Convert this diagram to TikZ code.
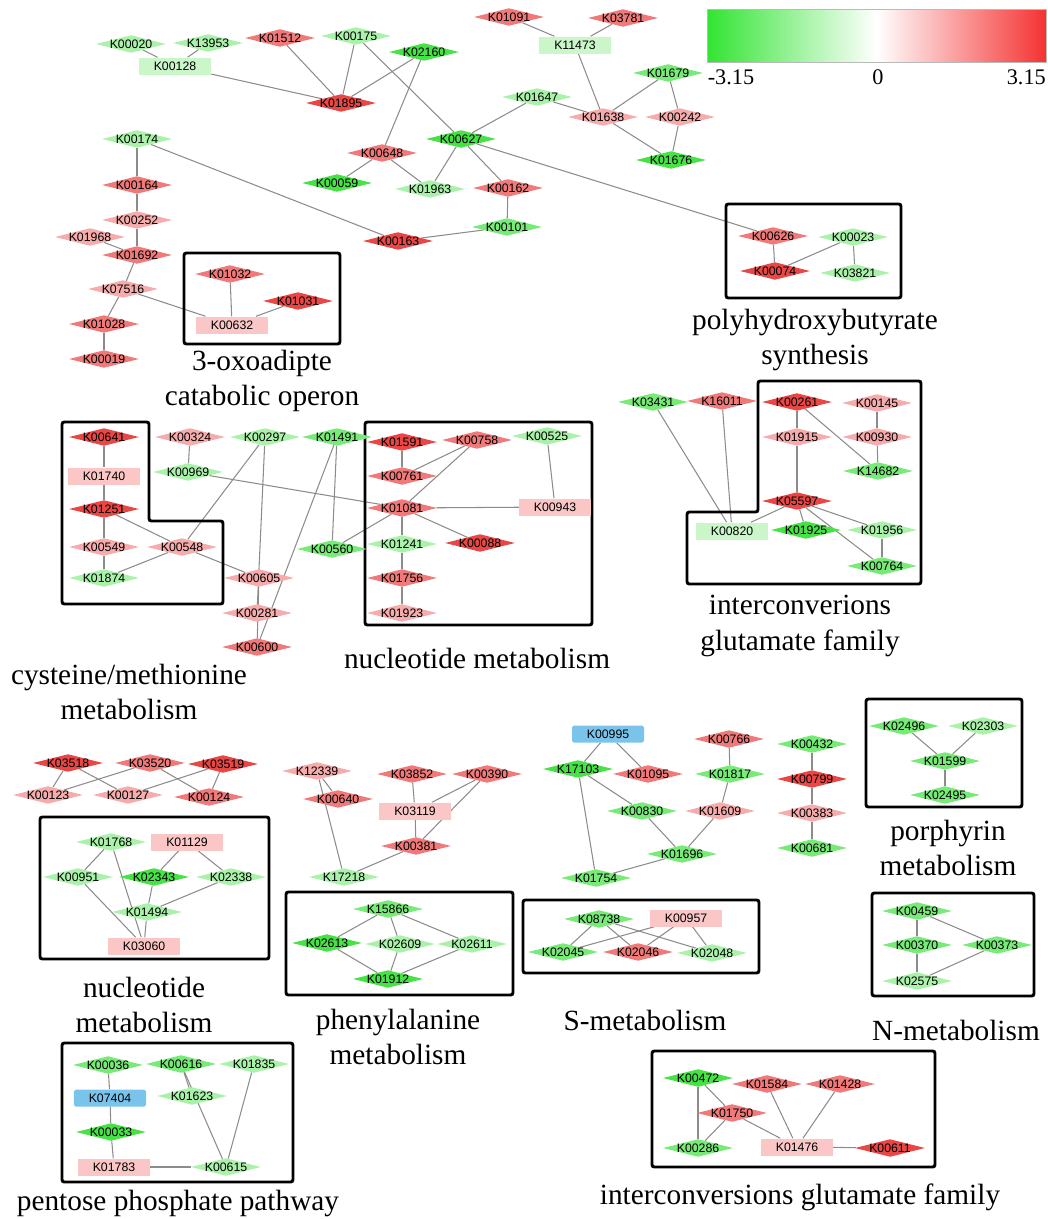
\documentclass[tikz,border=0pt]{standalone}
\usepackage{fontspec}
\setmainfont{Liberation Serif}
\newfontfamily\kosans{Liberation Sans}
\usepackage{tikz}
\usetikzlibrary{shapes.geometric,backgrounds}

\definecolor{redA}{RGB}{233,70,70}
\definecolor{redB}{RGB}{240,122,122}
\definecolor{redC}{RGB}{246,172,172}
\definecolor{redD}{RGB}{250,198,198}
\definecolor{grnA}{RGB}{70,226,70}
\definecolor{grnB}{RGB}{120,234,120}
\definecolor{grnC}{RGB}{170,242,170}
\definecolor{grnD}{RGB}{202,246,202}
\definecolor{bluA}{RGB}{122,196,236}
\definecolor{linkgray}{RGB}{140,140,140}
\definecolor{scalegrn}{RGB}{50,228,50}
\definecolor{scalered}{RGB}{245,50,50}

\newcommand{\kofont}{\kosans\fontsize{10.5}{12}\selectfont}
\newcommand{\capfont}{\fontsize{25}{30.5}\selectfont}

\tikzset{
	kd/.style={diamond, inner sep=0pt, minimum width=2.1cm, minimum height=0.53cm, fill=#1},
	kr/.style={rectangle, inner sep=0pt, minimum width=2.16cm, minimum height=0.51cm, fill=#1, font=\kofont},
	every label/.style={font=\kofont, inner sep=0pt},
	link/.style={draw=linkgray, line width=0.9pt},
	group/.style={draw=black, line width=2.5pt, rounded corners=2pt},
	caption/.style={font=\capfont, align=center, inner sep=0pt},
}

\begin{document}
\begin{tikzpicture}[x=0.03cm, y=-0.03cm]
	\useasboundingbox (0,0) rectangle (1048,1219);

	% Colour scale:
	\shade[left color=scalegrn, right color=scalered, middle color=white] (707,9) rectangle (1046,62);
	\draw[linkgray!60, line width=0.4pt] (707,9) rectangle (1046,62);
	\node[font=\fontsize{19}{22}\selectfont, inner sep=0pt] (minval) at (731,77) {-3.15};
	\node[font=\fontsize{19}{22}\selectfont, inner sep=0pt] (zeroval) at (878,77) {0};
	\node[font=\fontsize{19}{22}\selectfont, inner sep=0pt, anchor=east] (maxval) at (1046,77) {3.15};

	% Module boxes:
	\draw[group] (184,253) rectangle (340,344);
	\draw[group] (726,204) rectangle (901,298);
	\draw[group] (62,422) -- (149,422) -- (149,521) -- (223,521) -- (223,604) -- (62,604) -- cycle;
	\draw[group] (365,422) rectangle (592,625);
	\draw[group] (758,381) -- (921,381) -- (921,584) -- (687,584) -- (687,512) -- (758,512) -- cycle;
	\draw[group] (40,817) rectangle (269,959);
	\draw[group] (286,892) rectangle (513,995);
	\draw[group] (523,900) rectangle (759,973);
	\draw[group] (866,699) rectangle (1022,807);
	\draw[group] (872,893) rectangle (1034,996);
	\draw[group] (62,1043) rectangle (293,1182);
	\draw[group] (652,1051) rectangle (935,1167);

	% Module names:
	\node[caption] (capoxo) at (262,381) {3-oxoadipte\\catabolic operon};
	\node[caption] (capphb) at (815,340) {polyhydroxybutyrate\\synthesis};
	\node[caption] (capcys) at (129,692) {cysteine/methionine\\metabolism};
	\node[caption] (capnuca) at (477,658) {nucleotide metabolism};
	\node[caption] (capglua) at (800,626) {interconverions\\glutamate family};
	\node[caption] (capnucb) at (144,1005) {nucleotide\\metabolism};
	\node[caption] (capphe) at (398,1037) {phenylalanine\\metabolism};
	\node[caption] (capsul) at (645,1020) {S-metabolism};
	\node[caption] (cappor) at (948,848) {porphyrin\\metabolism};
	\node[caption] (capnit) at (956,1030) {N-metabolism};
	\node[caption] (cappen) at (178,1203) {pentose phosphate pathway};
	\node[caption] (capglub) at (800,1197) {interconversions glutamate family};

	% Nodes, top part:
	\node[kd=grnC, label=center:K00020] (k00020) at (131,44) {};
	\node[kd=grnC, label=center:K13953] (k13953) at (208,43) {};
	\node[kr=grnD] (k00128) at (175,66) {K00128};
	\node[kd=redB, label=center:K01512] (k01512) at (280,38) {};
	\node[kd=grnC, label=center:K00175] (k00175) at (356,36) {};
	\node[kd=grnA, label=center:K02160] (k02160) at (424,52) {};
	\node[kd=redA, label=center:K01895] (k01895) at (341,103) {};
	\node[kd=redB, label=center:K01091] (k01091) at (509,17) {};
	\node[kd=redB, label=center:K03781] (k03781) at (623,18) {};
	\node[kr=grnD] (k11473) at (575,45) {K11473};
	\node[kd=grnB, label=center:K01679] (k01679) at (668,73) {};
	\node[kd=grnC, label=center:K01647] (k01647) at (537,97) {};
	\node[kd=redC, label=center:K01638] (k01638) at (603,117) {};
	\node[kd=redC, label=center:K00242] (k00242) at (680,117) {};
	\node[kd=grnA, label=center:K01676] (k01676) at (671,160) {};
	\node[kd=grnA, label=center:K00627] (k00627) at (461,139) {};
	\node[kd=redB, label=center:K00648] (k00648) at (382,153) {};
	\node[kd=grnA, label=center:K00059] (k00059) at (337,183) {};
	\node[kd=grnC, label=center:K01963] (k01963) at (430,189) {};
	\node[kd=redB, label=center:K00162] (k00162) at (508,188) {};
	\node[kd=grnB, label=center:K00101] (k00101) at (507,227) {};
	\node[kd=redA, label=center:K00163] (k00163) at (398,241) {};
	\node[kd=grnC, label=center:K00174] (k00174) at (137,139) {};
	\node[kd=redB, label=center:K00164] (k00164) at (137,185) {};
	\node[kd=redC, label=center:K00252] (k00252) at (137,220) {};
	\node[kd=redC, label=center:K01968] (k01968) at (90,237) {};
	\node[kd=redB, label=center:K01692] (k01692) at (137,255) {};
	\node[kd=redC, label=center:K07516] (k07516) at (123,289) {};
	\node[kd=redB, label=center:K01028] (k01028) at (104,324) {};
	\node[kd=redB, label=center:K00019] (k00019) at (104,359) {};
	\node[kd=redB, label=center:K01032] (k01032) at (230,274) {};
	\node[kd=redA, label=center:K01031] (k01031) at (298,301) {};
	\node[kr=redD] (k00632) at (232,325) {K00632};
	\node[kd=redB, label=center:K00626] (k00626) at (773,236) {};
	\node[kd=grnC, label=center:K00023] (k00023) at (853,237) {};
	\node[kd=redA, label=center:K00074] (k00074) at (775,271) {};
	\node[kd=grnC, label=center:K03821] (k03821) at (855,273) {};

	% Nodes, middle part:
	\node[kd=redA, label=center:K00641] (k00641) at (104,437) {};
	\node[kr=redD] (k01740) at (104,476) {K01740};
	\node[kd=redA, label=center:K01251] (k01251) at (104,509) {};
	\node[kd=redC, label=center:K00549] (k00549) at (104,547) {};
	\node[kd=grnC, label=center:K01874] (k01874) at (104,578) {};
	\node[kd=redC, label=center:K00548] (k00548) at (182,547) {};
	\node[kd=redC, label=center:K00324] (k00324) at (190,437) {};
	\node[kd=grnC, label=center:K00969] (k00969) at (188,472) {};
	\node[kd=grnC, label=center:K00297] (k00297) at (265,437) {};
	\node[kd=grnB, label=center:K01491] (k01491) at (337,437) {};
	\node[kd=grnB, label=center:K00560] (k00560) at (332,549) {};
	\node[kd=redC, label=center:K00605] (k00605) at (259,578) {};
	\node[kd=redC, label=center:K00281] (k00281) at (257,613) {};
	\node[kd=redB, label=center:K00600] (k00600) at (257,647) {};
	\node[kd=redA, label=center:K01591] (k01591) at (402,442) {};
	\node[kd=redB, label=center:K00758] (k00758) at (477,440) {};
	\node[kd=grnC, label=center:K00525] (k00525) at (547,436) {};
	\node[kd=redB, label=center:K00761] (k00761) at (402,476) {};
	\node[kd=redB, label=center:K01081] (k01081) at (402,508) {};
	\node[kr=redD] (k00943) at (555,507) {K00943};
	\node[kd=grnC, label=center:K01241] (k01241) at (402,544) {};
	\node[kd=redA, label=center:K00088] (k00088) at (480,543) {};
	\node[kd=redB, label=center:K01756] (k01756) at (402,578) {};
	\node[kd=redC, label=center:K01923] (k01923) at (402,613) {};
	\node[kd=grnB, label=center:K03431] (k03431) at (653,402) {};
	\node[kd=redB, label=center:K16011] (k16011) at (722,401) {};
	\node[kr=grnD] (k00820) at (732,531) {K00820};
	\node[kd=redA, label=center:K00261] (k00261) at (797,402) {};
	\node[kd=redC, label=center:K00145] (k00145) at (877,403) {};
	\node[kd=redC, label=center:K01915] (k01915) at (797,437) {};
	\node[kd=redC, label=center:K00930] (k00930) at (877,437) {};
	\node[kd=grnB, label=center:K14682] (k14682) at (878,471) {};
	\node[kd=redA, label=center:K05597] (k05597) at (797,501) {};
	\node[kd=grnA, label=center:K01925] (k01925) at (806,530) {};
	\node[kd=grnC, label=center:K01956] (k01956) at (882,530) {};
	\node[kd=grnB, label=center:K00764] (k00764) at (882,566) {};

	% Nodes, lower part:
	\node[kd=redA, label=center:K03518] (k03518) at (68,763) {};
	\node[kd=redB, label=center:K03520] (k03520) at (150,763) {};
	\node[kd=redA, label=center:K03519] (k03519) at (223,764) {};
	\node[kd=redC, label=center:K00123] (k00123) at (48,795) {};
	\node[kd=redC, label=center:K00127] (k00127) at (128,795) {};
	\node[kd=redB, label=center:K00124] (k00124) at (209,797) {};
	\node[kd=grnC, label=center:K01768] (k01768) at (111,842) {};
	\node[kr=redD] (k01129) at (187,842) {K01129};
	\node[kd=grnC, label=center:K00951] (k00951) at (78,877) {};
	\node[kd=grnA, label=center:K02343] (k02343) at (154,877) {};
	\node[kd=grnC, label=center:K02338] (k02338) at (231,877) {};
	\node[kd=grnC, label=center:K01494] (k01494) at (147,912) {};
	\node[kr=redD] (k03060) at (144,946) {K03060};
	\node[kd=redC, label=center:K12339] (k12339) at (317,771) {};
	\node[kd=redB, label=center:K00640] (k00640) at (338,799) {};
	\node[kd=grnC, label=center:K17218] (k17218) at (344,877) {};
	\node[kd=redB, label=center:K03852] (k03852) at (412,774) {};
	\node[kd=redB, label=center:K00390] (k00390) at (487,774) {};
	\node[kr=redD] (k03119) at (415,811) {K03119};
	\node[kd=redB, label=center:K00381] (k00381) at (416,846) {};
	\node[kr=bluA, rounded corners=1.5pt] (k00995) at (608,734) {K00995};
	\node[kd=grnA, label=center:K17103] (k17103) at (578,769) {};
	\node[kd=redB, label=center:K01095] (k01095) at (648,774) {};
	\node[kd=grnB, label=center:K00830] (k00830) at (642,811) {};
	\node[kd=grnB, label=center:K01696] (k01696) at (682,854) {};
	\node[kd=grnB, label=center:K01754] (k01754) at (596,878) {};
	\node[kd=redB, label=center:K00766] (k00766) at (729,739) {};
	\node[kd=grnB, label=center:K01817] (k01817) at (730,774) {};
	\node[kd=redC, label=center:K01609] (k01609) at (720,811) {};
	\node[kd=grnB, label=center:K00432] (k00432) at (812,744) {};
	\node[kd=redA, label=center:K00799] (k00799) at (812,779) {};
	\node[kd=redC, label=center:K00383] (k00383) at (812,813) {};
	\node[kd=grnB, label=center:K00681] (k00681) at (812,848) {};
	\node[kd=grnB, label=center:K02496] (k02496) at (904,726) {};
	\node[kd=grnC, label=center:K02303] (k02303) at (983,726) {};
	\node[kd=grnB, label=center:K01599] (k01599) at (945,761) {};
	\node[kd=grnB, label=center:K02495] (k02495) at (945,795) {};
	\node[kd=grnB, label=center:K00459] (k00459) at (917,911) {};
	\node[kd=grnB, label=center:K00370] (k00370) at (917,945) {};
	\node[kd=grnB, label=center:K00373] (k00373) at (997,945) {};
	\node[kd=grnC, label=center:K02575] (k02575) at (917,981) {};
	\node[kd=grnB, label=center:K15866] (k15866) at (388,909) {};
	\node[kd=grnA, label=center:K02613] (k02613) at (327,943) {};
	\node[kd=grnC, label=center:K02609] (k02609) at (400,944) {};
	\node[kd=grnC, label=center:K02611] (k02611) at (472,944) {};
	\node[kd=grnA, label=center:K01912] (k01912) at (388,979) {};
	\node[kd=grnB, label=center:K08738] (k08738) at (599,919) {};
	\node[kr=redD] (k00957) at (686,918) {K00957};
	\node[kd=grnB, label=center:K02045] (k02045) at (563,952) {};
	\node[kd=redB, label=center:K02046] (k02046) at (638,952) {};
	\node[kd=grnC, label=center:K02048] (k02048) at (712,953) {};
	\node[kd=grnB, label=center:K00036] (k00036) at (108,1065) {};
	\node[kd=grnB, label=center:K00616] (k00616) at (181,1064) {};
	\node[kd=grnC, label=center:K01835] (k01835) at (254,1064) {};
	\node[kr=bluA, rounded corners=1.5pt] (k07404) at (110,1098) {K07404};
	\node[kd=grnC, label=center:K01623] (k01623) at (192,1096) {};
	\node[kd=grnA, label=center:K00033] (k00033) at (111,1132) {};
	\node[kr=redD] (k01783) at (114,1167) {K01783};
	\node[kd=grnC, label=center:K00615] (k00615) at (226,1167) {};
	\node[kd=grnA, label=center:K00472] (k00472) at (698,1078) {};
	\node[kd=redB, label=center:K01584] (k01584) at (767,1084) {};
	\node[kd=redB, label=center:K01428] (k01428) at (840,1084) {};
	\node[kd=redB, label=center:K01750] (k01750) at (732,1113) {};
	\node[kd=grnB, label=center:K00286] (k00286) at (698,1148) {};
	\node[kr=redD] (k01476) at (797,1147) {K01476};
	\node[kd=redA, label=center:K00611] (k00611) at (890,1148) {};

	% Edges (behind the nodes):
	\begin{scope}[on background layer]
	\draw[link] (k00020) -- (k00128);
	\draw[link] (k13953) -- (k00128);
	\draw[link] (k00128) -- (k01895);
	\draw[link] (k01512) -- (k01895);
	\draw[link] (k00175) -- (k01895);
	\draw[link] (k02160) -- (k01895);
	\draw[link] (k00175) -- (k00627);
	\draw[link] (k02160) -- (k00648);
	\draw[link] (k01091) -- (k11473);
	\draw[link] (k03781) -- (k11473);
	\draw[link] (k11473) -- (k01638);
	\draw[link] (k01647) -- (k01638);
	\draw[link] (k01647) -- (k00627);
	\draw[link] (k01679) -- (k01638);
	\draw[link] (k01679) -- (k00242);
	\draw[link] (k00242) -- (k01676);
	\draw[link] (k01638) -- (k01676);
	\draw[link] (k00627) -- (k01963);
	\draw[link] (k00627) -- (k00162);
	\draw[link] (k00627) -- (k00626);
	\draw[link] (k00648) -- (k00059);
	\draw[link] (k00648) -- (k01963);
	\draw[link] (k00162) -- (k00101);
	\draw[link] (k00101) -- (k00163);
	\draw[link] (k00174) -- (k00163);
	\draw[link] (k00174) -- (k00164);
	\draw[link] (k00164) -- (k00252);
	\draw[link] (k00252) -- (k01692);
	\draw[link] (k01968) -- (k01692);
	\draw[link] (k01692) -- (k07516);
	\draw[link] (k07516) -- (k01028);
	\draw[link] (k07516) -- (k00632);
	\draw[link] (k01028) -- (k00019);
	\draw[link] (k01032) -- (k00632);
	\draw[link] (k01031) -- (k00632);
	\draw[link] (k00626) -- (k00074);
	\draw[link] (k00023) -- (k00074);
	\draw[link] (k00023) -- (k03821);
	\draw[link] (k00641) -- (k01740);
	\draw[link] (k01740) -- (k01251);
	\draw[link] (k01251) -- (k00549);
	\draw[link] (k00549) -- (k01874);
	\draw[link] (k01251) -- (k00548);
	\draw[link] (k00548) -- (k01874);
	\draw[link] (k00548) -- (k00605);
	\draw[link] (k00548) -- (k00297);
	\draw[link] (k00324) -- (k00969);
	\draw[link] (k00969) -- (k01081);
	\draw[link] (k00297) -- (k00281);
	\draw[link] (k00605) -- (k00600);
	\draw[link] (k01491) -- (k00600);
	\draw[link] (k01491) -- (k00560);
	\draw[link] (k00560) -- (k01081);
	\draw[link] (k01591) -- (k00761);
	\draw[link] (k00761) -- (k00758);
	\draw[link] (k00758) -- (k01081);
	\draw[link] (k01081) -- (k00943);
	\draw[link] (k00525) -- (k00943);
	\draw[link] (k01081) -- (k00088);
	\draw[link] (k01081) -- (k01241);
	\draw[link] (k01241) -- (k01756);
	\draw[link] (k01756) -- (k01923);
	\draw[link] (k03431) -- (k00820);
	\draw[link] (k16011) -- (k00820);
	\draw[link] (k00261) -- (k01915);
	\draw[link] (k01915) -- (k05597);
	\draw[link] (k00261) -- (k14682);
	\draw[link] (k00145) -- (k00930);
	\draw[link] (k00930) -- (k14682);
	\draw[link] (k05597) -- (k00820);
	\draw[link] (k05597) -- (k01925);
	\draw[link] (k05597) -- (k01956);
	\draw[link] (k05597) -- (k00764);
	\draw[link] (k01956) -- (k00764);
	\draw[link] (k03518) -- (k00123);
	\draw[link] (k03518) -- (k00127);
	\draw[link] (k03520) -- (k00123);
	\draw[link] (k03520) -- (k00124);
	\draw[link] (k03519) -- (k00127);
	\draw[link] (k03519) -- (k00124);
	\draw[link] (k01768) -- (k00951);
	\draw[link] (k01768) -- (k03060);
	\draw[link] (k01129) -- (k02343);
	\draw[link] (k01129) -- (k02338);
	\draw[link] (k02343) -- (k01494);
	\draw[link] (k02338) -- (k01494);
	\draw[link] (k00951) -- (k03060);
	\draw[link] (k01494) -- (k03060);
	\draw[link] (k12339) -- (k00640);
	\draw[link] (k12339) -- (k17218);
	\draw[link] (k17218) -- (k00381);
	\draw[link] (k03852) -- (k03119);
	\draw[link] (k03119) -- (k00381);
	\draw[link] (k00390) -- (k03119);
	\draw[link] (k00390) -- (k00381);
	\draw[link] (k00995) -- (k17103);
	\draw[link] (k00995) -- (k01095);
	\draw[link] (k17103) -- (k00830);
	\draw[link] (k17103) -- (k01754);
	\draw[link] (k00830) -- (k01696);
	\draw[link] (k01696) -- (k01754);
	\draw[link] (k01609) -- (k01696);
	\draw[link] (k00766) -- (k01817);
	\draw[link] (k01817) -- (k01609);
	\draw[link] (k00432) -- (k00799);
	\draw[link] (k00799) -- (k00383);
	\draw[link] (k00383) -- (k00681);
	\draw[link] (k02496) -- (k01599);
	\draw[link] (k02303) -- (k01599);
	\draw[link] (k01599) -- (k02495);
	\draw[link] (k00459) -- (k00370);
	\draw[link] (k00459) -- (k00373);
	\draw[link] (k00370) -- (k02575);
	\draw[link] (k02575) -- (k00373);
	\draw[link] (k15866) -- (k02613);
	\draw[link] (k15866) -- (k02609);
	\draw[link] (k15866) -- (k02611);
	\draw[link] (k02613) -- (k01912);
	\draw[link] (k02609) -- (k01912);
	\draw[link] (k02611) -- (k01912);
	\draw[link] (k08738) -- (k02045);
	\draw[link] (k08738) -- (k02046);
	\draw[link] (k08738) -- (k02048);
	\draw[link] (k00957) -- (k02045);
	\draw[link] (k00957) -- (k02046);
	\draw[link] (k00957) -- (k02048);
	\draw[link] (k00036) -- (k07404);
	\draw[link] (k07404) -- (k00033);
	\draw[link] (k00033) -- (k01783);
	\draw[link] (k01783) -- (k00615);
	\draw[link] (k00616) -- (k01623);
	\draw[link] (k00616) -- (k00615);
	\draw[link] (k01835) -- (k00615);
	\draw[link] (k00472) -- (k00286);
	\draw[link] (k00472) -- (k01750);
	\draw[link] (k01750) -- (k00286);
	\draw[link] (k01750) -- (k01476);
	\draw[link] (k01584) -- (k01476);
	\draw[link] (k01428) -- (k01476);
	\draw[link] (k01476) -- (k00611);
	\end{scope}
\end{tikzpicture}
\end{document}
